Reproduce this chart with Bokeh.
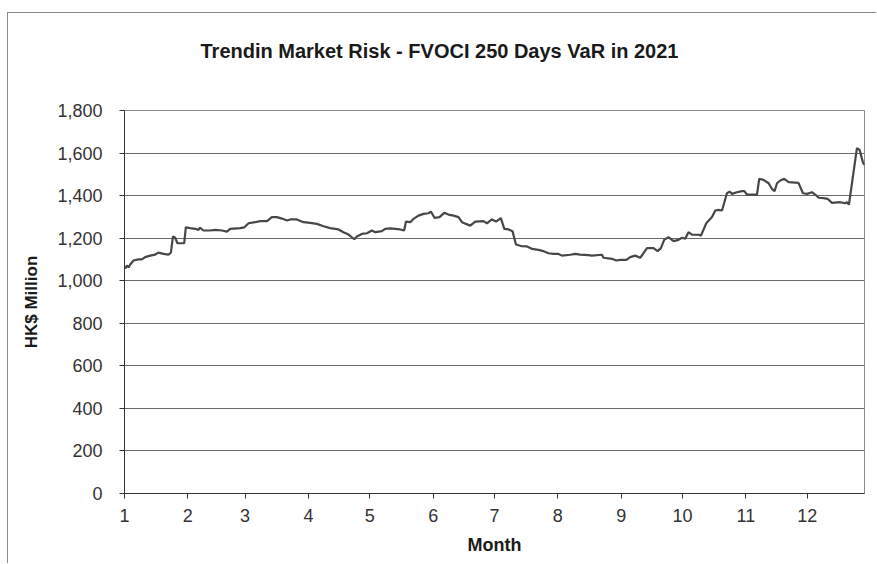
from bokeh.plotting import figure
from bokeh.models import Range1d, FixedTicker, NumeralTickFormatter, Title
from bokeh.embed import file_html
from bokeh.resources import INLINE

# Day offset from 1 Jan 2021 and VaR (HK$ million)
days = [0.3, 1.2, 2.0, 2.8, 4.4, 6.8, 8.5, 10.1, 12.6, 15.0, 16.6, 19.1, 21.5, 22.7,
        23.7, 24.8, 25.9, 29.2, 30.0, 32.1, 34.6, 36.2, 37.0, 38.6, 41.9, 44.4, 47.7,
        50.1, 51.7, 56.6, 58.6, 60.7, 63.9, 66.4, 69.7, 72.1, 74.6, 77.0, 79.5, 81.1,
        84.3, 87.6, 90.9, 94.1, 97.4, 100.6, 104.7, 107.1, 109.6, 112.4, 113.7, 116.1,
        118.6, 121.0, 122.7, 125.9, 127.5, 130.0, 132.4, 134.9, 136.8, 137.7, 139.8,
        141.4, 143.8, 146.3, 148.7, 149.9, 151.7, 154.1, 156.4, 158.5, 161.0, 163.4,
        165.1, 169.1, 171.6, 175.6, 177.3, 179.7, 181.8, 184.1, 185.8, 187.9, 189.8,
        191.5, 194.4, 196.9, 199.3, 202.5, 205.0, 207.4, 209.9, 212.3, 214.0, 218.1,
        220.5, 222.9, 227.0, 228.6, 233.6, 234.3, 238.5, 240.6, 242.5, 245.5, 247.4,
        249.8, 252.3, 255.6, 258.8, 260.8, 262.4, 264.0, 266.1, 268.6, 271.0, 272.7,
        274.3, 275.9, 277.6, 280.8, 282.0, 284.6, 287.4, 289.0, 290.6, 292.3, 294.7,
        296.0, 297.2, 299.6, 302.1, 303.2, 304.5, 309.4, 310.5, 312.6, 315.1, 316.7,
        318.0, 319.2, 320.8, 322.7, 324.9, 329.7, 331.9, 333.9, 336.3, 337.9, 339.6,
        342.0, 343.9, 346.1, 350.2, 352.6, 353.4, 354.4, 358.3, 359.6, 361.3, 362.0]
var = [1056, 1071, 1063, 1076, 1095, 1100, 1100, 1111, 1118, 1123, 1132, 1126, 1123, 1132,
       1208, 1202, 1176, 1176, 1251, 1247, 1244, 1239, 1249, 1236, 1236, 1239, 1236,
       1231, 1244, 1247, 1251, 1270, 1275, 1280, 1280, 1299, 1299, 1292, 1283, 1288,
       1288, 1275, 1272, 1267, 1256, 1247, 1241, 1228, 1217, 1195, 1208, 1220,
       1223, 1236, 1228, 1233, 1244, 1246, 1244, 1241, 1236, 1278, 1275,
       1291, 1306, 1314, 1317, 1325, 1295, 1299, 1319, 1311, 1306, 1299,
       1275, 1259, 1278, 1280, 1270, 1288, 1278, 1294, 1244, 1241, 1233,
       1170, 1162, 1161, 1150, 1145, 1139, 1129, 1126, 1126, 1118, 1122,
       1126, 1123, 1120, 1118, 1122, 1108, 1103, 1095, 1098, 1098, 1111,
       1118, 1108, 1153, 1153, 1139, 1153, 1192, 1205, 1186, 1192, 1202,
       1197, 1228, 1217, 1216, 1212, 1270, 1299, 1330, 1333, 1330, 1411,
       1419, 1408, 1416, 1421, 1421, 1405, 1405, 1479, 1474, 1458, 1432,
       1421, 1458, 1471, 1479, 1463, 1460, 1411, 1408, 1416, 1405, 1390,
       1388, 1385, 1366, 1369, 1364, 1369, 1358, 1623, 1615, 1554, 1545]

month_start_days = [0, 31, 59, 90, 120, 151, 181, 212, 243, 273, 304, 334]
month_labels = ["1", "2", "3", "4", "5", "6", "7", "8", "9", "10", "11", "12"]
y_ticks = [0, 200, 400, 600, 800, 1000, 1200, 1400, 1600, 1800]

FONT = "Liberation Sans"

p = figure(width=869, height=551, output_backend="svg", toolbar_location=None,
           x_range=Range1d(0, 362), y_range=Range1d(0, 1800),
           min_border_left=116, min_border_right=13, min_border_top=97,
           min_border_bottom=71)
p.margin = (12, 0, 0, 7)
p.styles = {"border-left": "1px solid #8a8a8a", "border-top": "1px solid #8a8a8a"}

p.title.text = "Trendin Market Risk - FVOCI 250 Days VaR in 2021"
p.title.align = "left"
p.title.offset = 76
p.title.vertical_align = "top"
p.title.standoff = 0
p.title.text_font = FONT
p.title.text_font_size = "20px"
p.title.text_font_style = "bold"
p.title.text_color = "#1a1a1a"

# empty spacer panel between the title and the plot area
p.add_layout(Title(text=" ", text_font=FONT, text_font_size="20px", standoff=23), "above")

p.line(days, var, line_color="#474747", line_width=2.2)

p.outline_line_color = "#8a8a8a"
p.outline_line_width = 1
p.xgrid.visible = False
p.ygrid.grid_line_color = "#6a6a6a"
p.ygrid.grid_line_width = 1

for ax in (p.xaxis[0], p.yaxis[0]):
    ax.axis_line_color = "#333333"
    ax.major_tick_line_color = "#333333"
    ax.major_tick_out = 5
    ax.major_tick_in = 0
    ax.minor_tick_out = 0
    ax.minor_tick_in = 0
    ax.major_label_text_font = FONT
    ax.major_label_text_font_size = "18px"
    ax.major_label_text_color = "#333333"
    ax.axis_label_text_font = FONT
    ax.axis_label_text_font_style = "bold"
    ax.axis_label_text_color = "#1a1a1a"

p.xaxis.ticker = FixedTicker(ticks=month_start_days)
p.xaxis.major_label_overrides = {d: l for d, l in zip(month_start_days, month_labels)}
p.xaxis.axis_label = "Month"
p.xaxis.axis_label_text_font_size = "18px"
p.xaxis.major_label_standoff = 10
p.xaxis.axis_label_standoff = 10

p.yaxis.ticker = FixedTicker(ticks=y_ticks)
p.yaxis.formatter = NumeralTickFormatter(format="0,0")
p.yaxis.axis_label = "HK$ Million"
p.yaxis.axis_label_text_font_size = "17px"
p.yaxis.major_label_standoff = 17
p.yaxis.axis_label_standoff = 13

open("out.html", "w").write(file_html(p, INLINE))
